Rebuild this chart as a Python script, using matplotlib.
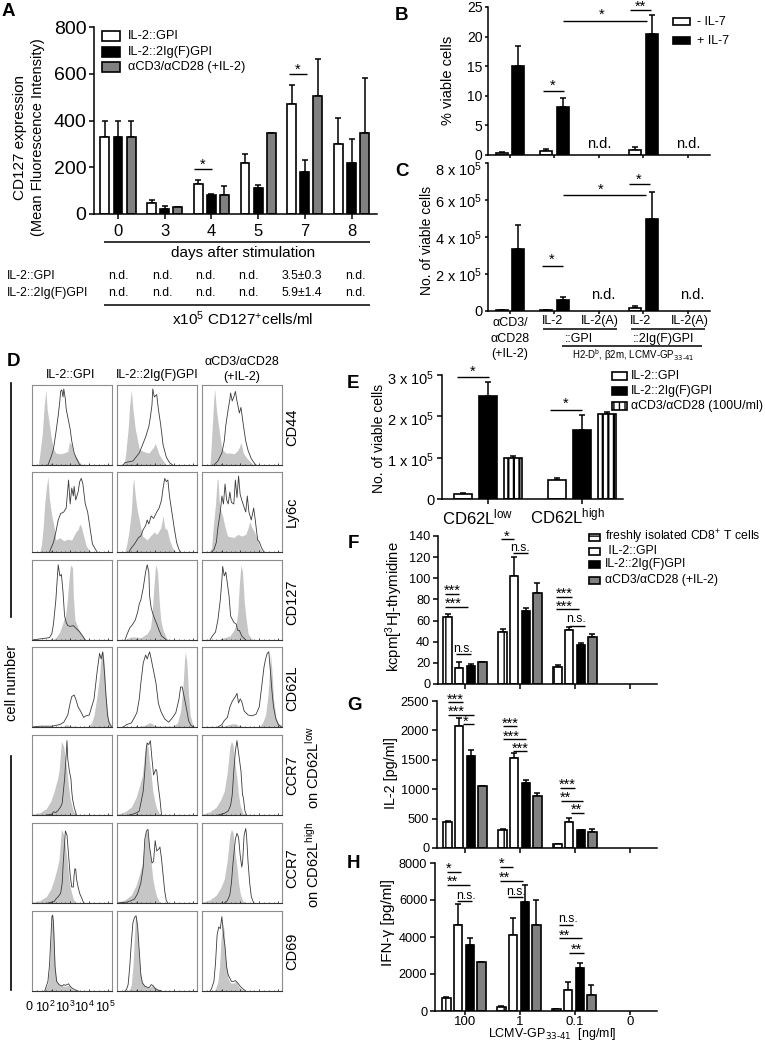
import numpy as np
import matplotlib
matplotlib.use("Agg")
import matplotlib.pyplot as plt
from matplotlib.patches import Rectangle
from matplotlib.transforms import ScaledTranslation

plt.rcParams["font.family"] = ["Liberation Sans", "DejaVu Sans"]
plt.rcParams["mathtext.default"] = "regular"
plt.rcParams["hatch.linewidth"] = 1.0

W, H = 765, 1042
GREY = "#808080"

# panel A
days = ["0", "3", "4", "5", "7", "8"]
a_gpi = [330, 45, 130, 220, 470, 300]
a_gpi_top = [400, 60, 145, 255, 553, 412]
a_ig = [330, 20, 80, 110, 180, 220]
a_ig_top = [400, 35, 85, 122, 230, 322]
a_cd3 = [330, 30, 80, 345, 505, 345]
a_cd3_top = [400, 30, 120, 345, 665, 580]
nd_row1 = ["n.d.", "n.d.", "n.d.", "n.d.", "3.5\u00b10.3", "n.d."]
nd_row2 = ["n.d.", "n.d.", "n.d.", "n.d.", "5.9\u00b11.4", "n.d."]

# panels B, C
b_minus = [0.3, 0.7, np.nan, 0.8, np.nan]
b_minus_top = [0.5, 1.0, np.nan, 1.3, np.nan]
b_plus = [15, 8.1, np.nan, 20.4, np.nan]
b_plus_top = [18.4, 9.6, np.nan, 23.6, np.nan]
c_minus = [0.05, 0.05, np.nan, 0.15, np.nan]
c_minus_top = [0.08, 0.06, np.nan, 0.28, np.nan]
c_plus = [3.35, 0.6, np.nan, 5.0, np.nan]
c_plus_top = [4.65, 0.75, np.nan, 6.45, np.nan]

# panel E
e_gpi = [0.12, 0.47]
e_gpi_top = [0.14, 0.5]
e_ig = [2.5, 1.68]
e_ig_top = [2.83, 2.03]
e_cd3 = [1.0, 2.05]
e_cd3_top = [1.04, 2.1]

# panels F, G, H : doses 100, 1, 0.1, 0
f_fresh = [63, 49, 16, np.nan]
f_fresh_top = [66, 52, 18, np.nan]
f_gpi = [15, 102, 51, np.nan]
f_gpi_top = [21, 120, 54, np.nan]
f_ig = [17, 69, 37, np.nan]
f_ig_top = [19, 72, 39, np.nan]
f_cd3 = [21, 86, 44, np.nan]
f_cd3_top = [21, 96, 47, np.nan]

g_fresh = [450, 310, 60, np.nan]
g_fresh_top = [460, 330, 65, np.nan]
g_gpi = [2080, 1530, 450, np.nan]
g_gpi_top = [2210, 1620, 510, np.nan]
g_ig = [1570, 1110, 300, np.nan]
g_ig_top = [1660, 1150, 310, np.nan]
g_cd3 = [1060, 890, 280, np.nan]
g_cd3_top = [1060, 940, 320, np.nan]

h_fresh = [700, 220, 100, np.nan]
h_fresh_top = [750, 250, 110, np.nan]
h_gpi = [4650, 4130, 1150, np.nan]
h_gpi_top = [5800, 5020, 1580, np.nan]
h_ig = [3570, 5900, 2320, np.nan]
h_ig_top = [3930, 6800, 2620, np.nan]
h_cd3 = [2650, 4650, 870, np.nan]
h_cd3_top = [2650, 6000, 1400, np.nan]
doses = ["100", "1", "0.1", "0"]

# panel D histograms, (channel %, height %)
cd44_gpi_gray = [(8,0),(10,15),(13,40),(15,70),(17.5,94),(19,70),(22,50),(24,35),(27,20),(30,15),(35,14),(40,15),(45,17),(47,29),(50,25),(52,15),(57,8),(60,3),(64,0)]
cd44_gpi_line = [(20,0),(24,10),(27,20),(30,40),(33,62),(35,80),(36,92),(37.5,94),(39,85),(40,95),(42,82),(43,70),(45,60),(48,45),(50,30),(53,15),(56,8),(60,0)]
cd44_ig_gray = [(9,0),(11,15),(14,45),(16,75),(18,94),(20,70),(23,45),(25,35),(28,20),(33,17),(40,15),(44,20),(46,22),(48,27),(50,22),(53,13),(57,7),(62,0)]
cd44_ig_line = [(8,0),(10,3),(20,5),(28,15),(32,25),(36,35),(40,48),(42,60),(44,75),(45,95),(47,85),(50,88),(52,70),(55,50),(58,25),(62,10),(66,3),(70,0)]
cd44_cd3_gray = [(10,0),(11,15),(13,50),(15,85),(16,95),(18,70),(20,55),(22,40),(25,20),(30,15),(35,15),(40,14),(44,17),(47,22),(49,28),(52,15),(56,9),(60,5),(65,0)]
cd44_cd3_line = [(15,0),(20,5),(25,15),(28,30),(30,50),(33,70),(35,82),(36,90),(38,80),(40,85),(42,92),(44,80),(47,65),(49,72),(52,50),(55,30),(58,18),(62,8),(66,2),(68,0)]

ly6c_gpi_gray = [(10,0),(12,10),(14,30),(16,60),(18,80),(20,94),(22,65),(25,45),(28,30),(30,15),(35,18),(40,14),(45,16),(50,15),(55,25),(58,28),(60,35),(62,32),(65,20),(68,8),(72,2),(75,0)]
ly6c_gpi_line = [(22,0),(24,5),(27,12),(30,25),(33,40),(36,48),(40,50),(43,55),(46,90),(48,60),(50,80),(52,70),(53,82),(55,65),(58,75),(60,88),(62,92),(64,85),(67,60),(70,50),(73,30),(76,10),(80,3),(82,0)]
ly6c_ig_gray = [(10,0),(12,8),(15,25),(18,50),(20,85),(21,92),(23,70),(25,55),(28,40),(32,20),(38,15),(42,20),(47,25),(50,22),(55,30),(58,45),(60,30),(63,28),(66,15),(70,5),(74,0)]
ly6c_ig_line = [(15,0),(18,5),(22,10),(27,18),(30,20),(33,28),(36,33),(38,40),(40,35),(43,45),(46,42),(50,50),(53,55),(56,65),(58,80),(60,92),(62,88),(64,90),(66,70),(69,50),(72,30),(75,12),(78,3),(80,0)]
ly6c_cd3_gray = [(9,0),(12,5),(14,30),(17,60),(19,90),(20,92),(22,60),(24,50),(26,45),(28,35),(32,20),(40,18),(45,22),(50,20),(55,22),(58,30),(60,38),(63,30),(66,25),(70,15),(73,5),(76,0)]
ly6c_cd3_line = [(12,0),(15,3),(18,12),(20,30),(23,50),(25,70),(27,60),(29,85),(31,65),(33,60),(35,75),(37,62),(40,60),(42,90),(44,68),(46,95),(48,72),(50,65),(55,50),(57,70),(59,50),(62,40),(65,55),(67,40),(70,15),(72,13),(75,5),(78,0)]

cd127_gpi_gray = [(25,0),(30,3),(35,10),(40,25),(42,30),(44,45),(46,70),(48,90),(49,94),(51,90),(52,55),(54,25),(58,15),(62,8),(66,2),(68,0)]
cd127_gpi_line = [(0,0),(15,2),(22,3),(25,8),(27,20),(30,50),(32,80),(33,94),(35,80),(37,82),(39,60),(41,30),(43,22),(45,18),(48,17),(52,18),(55,15),(60,10),(65,3),(67,0)]
cd127_ig_gray = [(10,0),(15,3),(20,4),(30,3),(38,8),(42,15),(44,30),(46,60),(48,88),(49,94),(51,85),(53,50),(55,25),(58,12),(62,3),(65,0)]
cd127_ig_line = [(10,0),(13,8),(16,15),(20,20),(23,25),(26,35),(28,45),(30,50),(33,65),(36,85),(38,94),(40,85),(41,55),(43,40),(46,30),(48,25),(50,20),(53,12),(56,5),(60,2),(62,0)]
cd127_cd3_gray = [(20,0),(25,2),(35,5),(40,12),(43,20),(45,35),(47,70),(49,94),(51,85),(53,50),(55,30),(58,8),(62,2),(65,0)]
cd127_cd3_line = [(10,0),(13,5),(17,10),(20,25),(23,50),(25,75),(26,92),(28,80),(30,85),(32,70),(34,55),(36,30),(40,22),(43,20),(45,12),(47,12),(50,5),(53,2),(55,0)]

cd62l_gpi_gray = [(40,0),(42,3),(45,3),(48,1),(70,0),(75,5),(78,15),(82,40),(85,65),(87,90),(89,94),(91,80),(93,40),(96,10),(100,2)]
cd62l_gpi_line = [(0,0),(10,1),(25,1),(35,3),(40,6),(45,15),(48,30),(50,38),(53,40),(55,35),(58,25),(61,20),(65,12),(68,14),(72,15),(78,35),(82,70),(85,92),(87,85),(89,94),(91,70),(93,40),(95,15),(97,5),(100,0)]
cd62l_ig_gray = [(20,0),(30,1),(35,2),(40,5),(43,5),(47,2),(55,1),(70,1),(76,5),(80,20),(83,50),(85,85),(86,94),(88,80),(90,40),(92,15),(95,4),(98,0)]
cd62l_ig_line = [(8,0),(12,3),(18,5),(22,12),(25,18),(28,35),(30,55),(33,80),(36,90),(38,85),(41,94),(43,85),(46,70),(49,55),(52,30),(55,20),(60,10),(65,6),(70,12),(74,18),(78,35),(80,50),(82,50),(85,35),(88,20),(90,8),(93,2),(96,0)]
cd62l_cd3_gray = [(25,0),(30,2),(38,4),(42,4),(46,2),(55,0),(72,0),(76,5),(80,15),(83,40),(85,70),(86,93),(88,70),(90,35),(93,12),(96,5),(100,2)]
cd62l_cd3_line = [(20,0),(25,3),(28,8),(32,12),(35,25),(38,32),(42,38),(44,42),(46,30),(48,35),(50,32),(53,20),(58,15),(63,14),(68,16),(72,25),(75,50),(78,75),(80,85),(82,92),(84,94),(86,70),(88,45),(90,25),(93,10),(96,3),(100,0)]

ccr7l_gpi_gray = [(0,1),(10,3),(18,8),(24,18),(28,30),(32,45),(34,55),(36,80),(37,92),(38,90),(40,85),(42,70),(44,55),(46,35),(48,20),(50,12),(52,5),(55,1),(60,0)]
ccr7l_gpi_line = [(18,0),(25,1),(27,4),(30,3),(33,6),(36,10),(38,15),(39,25),(41,45),(43,75),(44,93),(45,70),(47,55),(49,45),(50,30),(51,20),(53,10),(55,3),(56,0)]
ccr7l_ig_gray = [(0,1),(10,4),(18,10),(24,22),(28,35),(32,50),(35,80),(37,92),(39,85),(41,65),(43,50),(45,30),(48,15),(50,8),(53,2),(55,0)]
ccr7l_ig_line = [(15,0),(20,1),(25,3),(28,5),(30,15),(33,30),(35,55),(37,85),(38,90),(40,88),(42,93),(44,70),(46,50),(48,55),(49,57),(50,55),(52,35),(54,20),(56,0)]
ccr7l_cd3_gray = [(0,1),(10,4),(18,10),(24,20),(28,30),(32,55),(35,85),(37,92),(39,88),(42,60),(44,45),(46,25),(48,12),(51,3),(55,0)]
ccr7l_cd3_line = [(20,0),(28,2),(33,5),(36,12),(38,25),(40,55),(42,80),(44,93),(45,85),(47,70),(49,55),(51,25),(52,22),(54,5),(56,0)]

ccr7h_gpi_gray = [(0,1),(10,3),(18,8),(24,18),(28,30),(32,45),(34,55),(36,80),(37,92),(38,90),(40,85),(42,70),(44,55),(46,35),(48,20),(50,12),(52,5),(55,1),(60,0)]
ccr7h_gpi_line = [(20,0),(28,2),(30,5),(33,8),(36,12),(38,25),(39,45),(41,75),(42,90),(44,85),(46,60),(48,35),(50,20),(52,20),(53,35),(54,43),(55,42),(56,30),(58,20),(60,12),(63,5),(65,0)]
ccr7h_ig_gray = [(0,1),(10,4),(18,10),(24,22),(28,35),(32,50),(35,80),(37,92),(39,85),(41,65),(43,50),(45,30),(48,15),(50,8),(53,2),(55,0)]
ccr7h_ig_line = [(0,0),(12,1),(18,3),(22,5),(26,12),(30,25),(33,45),(35,80),(37,90),(39,92),(41,70),(44,50),(46,52),(48,78),(50,65),(53,68),(54,70),(56,55),(58,35),(60,15),(62,3),(64,0)]
ccr7h_cd3_gray = [(0,1),(10,4),(18,10),(24,20),(28,30),(32,55),(35,85),(37,92),(39,88),(42,60),(44,45),(46,25),(48,12),(51,3),(55,0)]
ccr7h_cd3_line = [(28,0),(32,3),(35,10),(37,25),(39,50),(42,80),(44,87),(46,82),(48,60),(50,45),(51,50),(53,85),(55,93),(56,85),(58,50),(60,25),(62,8),(65,0)]

cd69_gpi_gray = [(15,0),(18,5),(20,10),(22,30),(24,70),(25,92),(26,93),(27,85),(29,30),(31,12),(34,8),(38,6),(42,6),(46,7),(50,3),(53,1),(58,0)]
cd69_gpi_line = [(16,0),(18,6),(20,12),(22,32),(24,72),(25,93),(26,95),(27,85),(29,30),(31,12),(34,8),(38,6),(40,8),(42,7),(44,8),(46,9),(48,6),(50,4),(53,2),(58,0)]
cd69_ig_gray = [(12,0),(16,2),(18,8),(20,30),(22,70),(23,90),(24,94),(25,88),(27,55),(29,25),(31,12),(35,6),(40,4),(45,7),(50,3),(55,1),(60,0)]
cd69_ig_line = [(10,0),(12,2),(14,8),(16,30),(18,60),(20,85),(22,92),(24,94),(26,80),(28,50),(30,20),(32,10),(35,6),(40,4),(42,6),(43,8),(45,7),(48,3),(52,1),(56,0)]
cd69_cd3_gray = [(15,0),(18,5),(20,12),(22,30),(24,65),(26,85),(28,75),(29,45),(31,30),(33,15),(36,10),(40,10),(43,12),(46,6),(50,2),(55,0)]
cd69_cd3_line = [(10,0),(12,3),(15,12),(17,35),(19,70),(21,80),(23,78),(25,93),(27,70),(29,55),(31,30),(33,20),(37,12),(40,12),(42,13),(45,10),(48,6),(51,3),(55,0)]

hist_gray = [
    [cd44_gpi_gray, cd44_ig_gray, cd44_cd3_gray],
    [ly6c_gpi_gray, ly6c_ig_gray, ly6c_cd3_gray],
    [cd127_gpi_gray, cd127_ig_gray, cd127_cd3_gray],
    [cd62l_gpi_gray, cd62l_ig_gray, cd62l_cd3_gray],
    [ccr7l_gpi_gray, ccr7l_ig_gray, ccr7l_cd3_gray],
    [ccr7h_gpi_gray, ccr7h_ig_gray, ccr7h_cd3_gray],
    [cd69_gpi_gray, cd69_ig_gray, cd69_cd3_gray],
]
hist_line = [
    [cd44_gpi_line, cd44_ig_line, cd44_cd3_line],
    [ly6c_gpi_line, ly6c_ig_line, ly6c_cd3_line],
    [cd127_gpi_line, cd127_ig_line, cd127_cd3_line],
    [cd62l_gpi_line, cd62l_ig_line, cd62l_cd3_line],
    [ccr7l_gpi_line, ccr7l_ig_line, ccr7l_cd3_line],
    [ccr7h_gpi_line, ccr7h_ig_line, ccr7h_cd3_line],
    [cd69_gpi_line, cd69_ig_line, cd69_cd3_line],
]

fig = plt.figure(figsize=(W / 100, H / 100), dpi=100, facecolor="white")


def axes_px(left, top, right, bottom):
    return fig.add_axes([left / W, 1 - bottom / H, (right - left) / W, (bottom - top) / H])


def bars(ax, x, vals, tops, color, width, hatch=None):
    x = np.asarray(x, dtype=float)
    vals = np.asarray(vals, dtype=float)
    tops = np.asarray(tops, dtype=float)
    ax.bar(x, vals, width, color=color, edgecolor="black", linewidth=1.2, hatch=hatch, zorder=2)
    ax.errorbar(x, vals, yerr=[np.zeros_like(vals), tops - vals], fmt="none", ecolor="black",
                elinewidth=1.1, capsize=2.2, capthick=1.1, zorder=1)


def clean(ax, fs, ticklen=3.5):
    for s in ["top", "right"]:
        ax.spines[s].set_visible(False)
    for s in ["left", "bottom"]:
        ax.spines[s].set_linewidth(1.1)
    ax.tick_params(axis="both", width=1.1, length=ticklen, labelsize=fs, pad=2)


def shift_label(label, dy_px):
    # the sideways 10^5 labels sit a little below their ticks in the reference
    label.set_transform(label.get_transform() + ScaledTranslation(0, -dy_px / 100, fig.dpi_scale_trans))


# A
ax = axes_px(94, 27, 377, 214)
xa = np.arange(len(days))
bars(ax, xa - 0.28, a_gpi, a_gpi_top, "white", 0.19)
bars(ax, xa, a_ig, a_ig_top, "black", 0.19)
bars(ax, xa + 0.28, a_cd3, a_cd3_top, GREY, 0.19)
ax.set_xlim(-0.514, 5.546)
ax.set_ylim(0, 800)
ax.set_yticks([0, 200, 400, 600, 800])
ax.set_xticks(xa)
ax.set_xticklabels(days)
clean(ax, 14)
ax.tick_params(axis="x", labelsize=12, pad=4)

# B
ax = axes_px(488, 7, 710, 155)
xb = np.arange(5)
bars(ax, xb - 0.187, b_minus, b_minus_top, "white", 0.27)
bars(ax, xb + 0.187, b_plus, b_plus_top, "black", 0.27)
ax.set_xlim(-0.495, 4.5)
ax.set_ylim(0, 25)
ax.set_yticks([0, 5, 10, 15, 20, 25])
ax.set_xticks(xb)
ax.set_xticklabels([])
clean(ax, 10, 2)

# C
ax = axes_px(488, 163, 710, 311)
bars(ax, xb - 0.187, c_minus, c_minus_top, "white", 0.27)
bars(ax, xb + 0.187, c_plus, c_plus_top, "black", 0.27)
ax.set_xlim(-0.495, 4.5)
ax.set_ylim(0, 8)
ax.set_yticks([0, 2, 4, 6, 8])
ax.set_yticklabels(["0", "2 x 10$^{5}$", "4 x 10$^{5}$", "6 x 10$^{5}$", "8 x 10$^{5}$"])
ax.set_xticks(xb)
ax.set_xticklabels([])
clean(ax, 10.5, 2)
shift_label(ax.get_yticklabels()[-1], 5)

# D
col_lefts = [32, 117, 202]
row_tops = [385, 472, 560, 647, 735, 823, 911]
for r in range(7):
    for c in range(3):
        ax = axes_px(col_lefts[c], row_tops[r], col_lefts[c] + 79.5, row_tops[r] + 80)
        gx, gy = zip(*hist_gray[r][c])
        lx, ly = zip(*hist_line[r][c])
        ax.fill_between(gx, gy, 0, color="#c6c6c6", linewidth=0)
        ax.plot(lx, ly, color="#3a3a3a", linewidth=0.6)
        ax.set_xlim(0, 100)
        ax.set_ylim(0, 100)
        ax.set_yticks([])
        ax.set_xticks([0, 25, 48, 72, 96])
        ax.set_xticks(np.arange(0, 100, 6), minor=True)
        ax.set_xticklabels([])
        ax.tick_params(axis="x", which="major", direction="in", length=1.5, width=0.5)
        ax.tick_params(axis="x", which="minor", direction="in", length=0.8, width=0.4)
        for s in ["top", "left", "right"]:
            ax.spines[s].set_color("#8c8c8c")
            ax.spines[s].set_linewidth(0.8)
        ax.spines["bottom"].set_color("#333333")
        ax.spines["bottom"].set_linewidth(0.8)

# E
ax = axes_px(442, 375, 623, 499)
xe = np.arange(2)
plt.rcParams["hatch.linewidth"] = 1.6
bars(ax, xe - 0.27, e_gpi, e_gpi_top, "white", 0.19)
bars(ax, xe, e_ig, e_ig_top, "black", 0.19)
bars(ax, xe + 0.27, e_cd3, e_cd3_top, "white", 0.19, hatch="|||")
plt.rcParams["hatch.linewidth"] = 1.0
ax.set_xlim(-0.489, 1.436)
ax.set_ylim(0, 3)
ax.set_yticks([0, 1, 2, 3])
ax.set_yticklabels(["0", "1 x 10$^{5}$", "2 x 10$^{5}$", "3 x 10$^{5}$"])
ax.set_xticks(xe)
ax.set_xticklabels([])
clean(ax, 10.5)
for lab in ax.get_yticklabels()[1:]:
    shift_label(lab, 2)


# F, G, H share one layout
def dose_panel(top, bottom, left, series, ymax, yticks, offset=0.0):
    ax = axes_px(left, top, 657, bottom)
    xd = np.arange(4)
    fills = ["white", "white", "black", GREY]
    for i, (vals, tops) in enumerate(series):
        bars(ax, xd + offset + (i - 1.5) * 0.212, vals, tops, fills[i], 0.15, hatch="||" if i == 0 else None)
    ax.set_xlim((left - 465) / 55, (657 - 465) / 55)
    ax.set_ylim(0, ymax)
    ax.set_yticks(yticks)
    ax.set_xticks(xd)
    ax.set_xticklabels([])
    clean(ax, 9.2)
    return ax


dose_panel(536, 684, 438, [(f_fresh, f_fresh_top), (f_gpi, f_gpi_top), (f_ig, f_ig_top), (f_cd3, f_cd3_top)],
           140, [0, 20, 40, 60, 80, 100, 120, 140])
dose_panel(701, 848, 437, [(g_fresh, g_fresh_top), (g_gpi, g_gpi_top), (g_ig, g_ig_top), (g_cd3, g_cd3_top)],
           2500, [0, 500, 1000, 1500, 2000, 2500])
ax = dose_panel(863, 1011, 435, [(h_fresh, h_fresh_top), (h_gpi, h_gpi_top), (h_ig, h_ig_top), (h_cd3, h_cd3_top)],
                8000, [0, 2000, 4000, 6000, 8000], offset=-0.02)
ax.set_xticks(np.arange(4))
ax.set_xticklabels(doses, fontsize=9.5)
ax.tick_params(axis="x", pad=0.5, length=3)

# overlay in pixel coordinates for all the lettering, rules and brackets
ov = fig.add_axes([0, 0, 1, 1], zorder=10)
ov.set_xlim(0, W)
ov.set_ylim(H, 0)
ov.axis("off")


def txt(x, y, s, fs=9, rot=0, ha="center", va="center", **kw):
    ov.text(x, y, s, fontsize=fs, rotation=rot, ha=ha, va=va, **kw)


def rule(x0, x1, y, lw=1.1, color="black"):
    ov.plot([x0, x1], [y, y], color=color, linewidth=lw, solid_capstyle="butt")


def sig(x0, x1, y, label, tx=None, ty=None):
    rule(x0, x1, y, lw=1.0)
    tx = (x0 + x1) / 2 if tx is None else tx
    if label == "n.s.":
        txt(tx, y - 5 if ty is None else ty, label, 8.8)
    else:
        txt(tx, (y - 5 if ty is None else ty) + 2, label, 10.5)


def swatch(x0, x1, y, h, color, hatch=None):
    ov.add_patch(Rectangle((x0, y - h / 2), x1 - x0, h, facecolor=color, edgecolor="black",
                           linewidth=1.2, hatch=hatch))


for letter, x, y in [("A", 8, 12), ("B", 402, 15), ("C", 402, 171), ("D", 14, 361),
                     ("E", 353, 383), ("F", 353, 543), ("G", 355, 705), ("H", 354, 863)]:
    txt(x, y, letter, 13.5, fontweight="bold")

# A texts
txt(20, 137, "CD127 expression", 11, rot=90)
txt(38, 137, "(Mean Fluorescence Intensity)", 10.5, rot=90)
for y, c, s in [(36, "white", "IL-2::GPI"), (52, "black", "IL-2::2Ig(F)GPI"), (67, GREY, "\u03b1CD3/\u03b1CD28 (+IL-2)")]:
    swatch(102, 120, y, 10, c)
    txt(128, y, s, 9.2, ha="left")
sig(194, 212, 169, "*", ty=163)
sig(289, 307, 74, "*", ty=68)
rule(104, 370, 242)
txt(243, 253, "days after stimulation", 11)
txt(7, 276, "IL-2::GPI", 8.8, ha="left")
txt(7, 293, "IL-2::2Ig(F)GPI", 8.8, ha="left")
for x, s1, s2 in zip([118, 162, 205, 248, 302, 355], nd_row1, nd_row2):
    txt(x, 276, s1, 8.8)
    txt(x, 293, s2, 8.8)
rule(104, 370, 305)
txt(243, 319, "x10$^{5}$ CD127$^{+}$cells/ml", 11)

# B, C texts
txt(448, 80, "% viable cells", 10.5, rot=90)
txt(427, 240, "No. of viable cells", 10, rot=90)
swatch(673, 690, 21.5, 7, "white")
swatch(673, 690, 40, 7, "black")
txt(697, 22, "- IL-7", 9, ha="left")
txt(697, 41, "+ IL-7", 9, ha="left")
sig(563, 647, 21, "*", tx=602, ty=13)
sig(630, 651, 10, "**", tx=640, ty=5)
sig(543, 564, 91, "*", tx=553, ty=84)
sig(563, 646, 195, "*", tx=601, ty=188)
sig(629, 650, 184, "*", tx=639, ty=178)
sig(542, 563, 266, "*", tx=552, ty=258)
for x, y in [(599, 144), (688, 144), (603, 295), (692, 295)]:
    txt(x, y, "n.d.", 10.5)
txt(510, 323, "\u03b1CD3/", 9)
txt(510, 339, "\u03b1CD28", 9)
txt(510, 354, "(+IL-2)", 9)
for x, s in [(553, "IL-2"), (600, "IL-2(A)"), (641, "IL-2"), (690, "IL-2(A)")]:
    txt(x, 321, s, 9)
rule(543, 617, 329)
rule(631, 705, 329)
txt(579, 339, "::GPI", 9)
txt(664, 339, "::2Ig(F)GPI", 9)
rule(562, 702, 346)
txt(633, 355, "H2-D$^{b}$, \u03b22m, LCMV-GP$_{\\text{33-41}}$", 7)

# D texts
txt(71, 375, "IL-2::GPI", 9)
txt(157, 375, "IL-2::2Ig(F)GPI", 9)
txt(242, 362, "\u03b1CD3/\u03b1CD28", 9)
txt(242, 377, "(+IL-2)", 9)
txt(292, 427, "CD44", 10.5, rot=90)
txt(292, 512, "Ly6c", 10.5, rot=90)
txt(292, 602, "CD127", 10.5, rot=90)
txt(292, 688, "CD62L", 10.5, rot=90)
txt(292, 775, "CCR7", 10.5, rot=90)
txt(313, 767, "on CD62L$^{low}$", 10.5, rot=90)
txt(292, 868, "CCR7", 10.5, rot=90)
txt(313, 865, "on CD62L$^{high}$", 10.5, rot=90)
txt(292, 951, "CD69", 10.5, rot=90)
txt(12, 683, "cell number", 10.5, rot=90)
ov.plot([11, 11], [383, 617], color="black", linewidth=1.2)
ov.plot([11, 11], [756, 990], color="black", linewidth=1.2)
for x, s in [(29, "0"), (45, "10$^{2}$"), (65, "10$^{3}$"), (84, "10$^{4}$"), (105, "10$^{5}$")]:
    txt(x, 1007, s, 9)

# E texts
txt(379, 438, "No. of viable cells", 10, rot=90)
txt(478, 517, "CD62L$^{low}$", 12)
txt(568, 516, "CD62L$^{high}$", 12)
sig(457, 489, 377, "*", ty=370)
sig(550, 582, 410, "*", tx=566, ty=402)
for y, c, h, s in [(376, "white", None, "IL-2::GPI"), (391, "black", None, "IL-2::2Ig(F)GPI"),
                   (406, "white", "|||", "\u03b1CD3/\u03b1CD28 (100U/ml)")]:
    swatch(612, 627, y, 8, c, h)
    txt(631, y, s, 8.9, ha="left")

# F texts
txt(394, 607, "kcpm[$^{3}$H]-thymidine", 10.7, rot=90)
for y, c, h, s in [(537, "white", "---", "freshly isolated CD8$^{+}$ T cells"), (551, "white", None, " IL-2::GPI"),
                   (564, "black", None, "IL-2::2Ig(F)GPI"), (580, GREY, None, "\u03b1CD3/\u03b1CD28 (+IL-2)")]:
    swatch(589, 600, y, 7, c, h)
    txt(605, y, s, 8.8, ha="left")
for a in [(445, 459, 594, "***", None, 589), (445, 468, 607, "***", 453, 602), (456, 471, 654, "n.s.", None, 649),
          (501, 514, 539, "*", 507, 535), (513, 528, 553, "n.s.", None, 548), (556, 572, 597, "***", None, 592),
          (556, 579, 609, "***", 564, 605), (569, 585, 626, "n.s.", 576, 619)]:
    sig(*a)

# G texts
txt(391, 773, "IL-2 [pg/ml]", 10.4, rot=90)
for a in [(448, 463, 702, "***", None, 698), (448, 474, 715, "***", 456, 710), (463, 474, 724, "*", 466, 720),
          (503, 517, 726, "***", None, 722), (503, 526, 739, "***", 511, 735), (513, 527, 751, "***", 520, 747),
          (560, 575, 788, "***", None, 783), (561, 583, 801, "**", 565, 796), (571, 584, 813, "**", 576, 808)]:
    sig(*a)

# H texts
txt(388, 923, "IFN-\u03b3 [pg/ml]", 11, rot=90)
for a in [(447, 461, 872, "*", 449, 867), (447, 470, 885, "**", 452, 880), (457, 472, 901, "n.s.", 466, 896),
          (500, 513, 867, "*", 502, 862), (500, 523, 881, "**", 504, 876), (508, 523, 897, "n.s.", 516, 892),
          (559, 573, 925, "n.s.", 568, 919), (559, 582, 938, "**", 564, 934), (569, 584, 953, "**", 576, 948)]:
    sig(*a)
txt(552, 1034, "LCMV-GP$_{\\text{33-41}}$  [ng/ml]", 9)

fig.savefig("out.png", dpi=100)
